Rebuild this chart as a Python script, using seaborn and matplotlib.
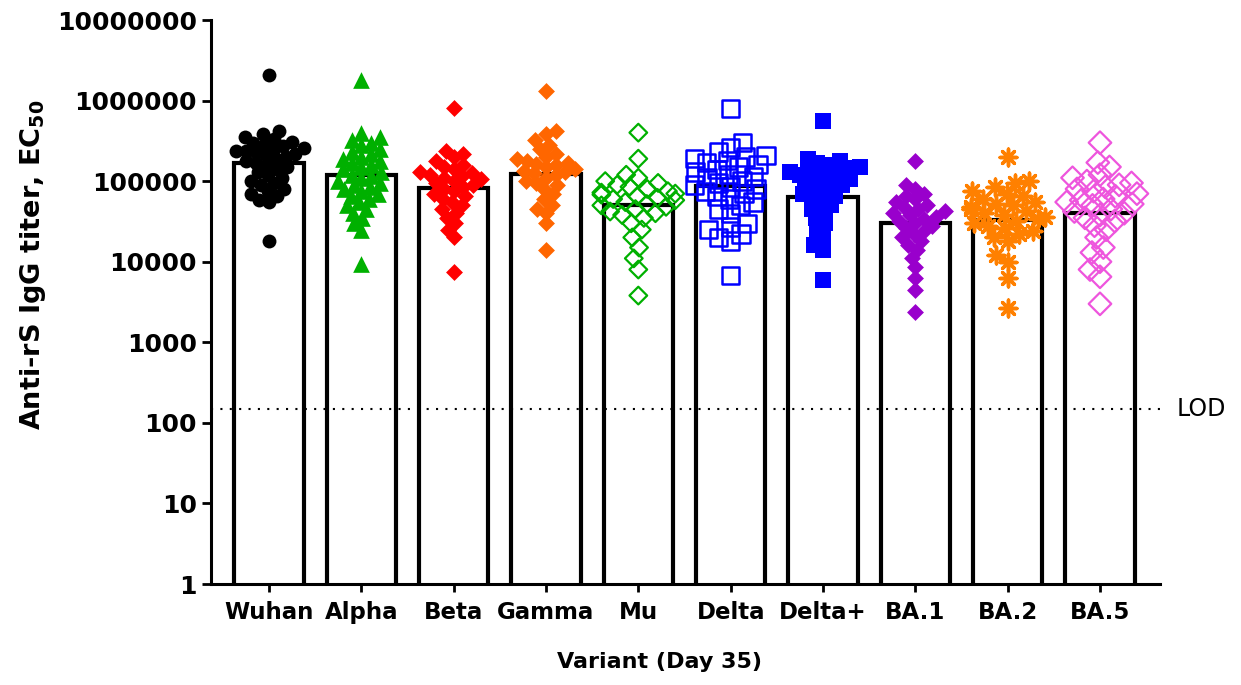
import matplotlib
matplotlib.use("Agg")
import matplotlib.pyplot as plt
import matplotlib.ticker as mticker
import matplotlib.transforms as mtransforms
import pandas as pd
import seaborn as sns

# --- data (anti-rS IgG EC50 titers, day 35) ---
variants = ["Wuhan", "Alpha", "Beta", "Gamma", "Mu", "Delta", "Delta+", "BA.1", "BA.2", "BA.5"]

wuhan = [2100000, 420000, 380000, 350000, 330000, 310000, 300000, 290000, 270000, 260000,
         250000, 240000, 240000, 230000, 220000, 210000, 200000, 190000, 180000, 170000,
         160000, 150000, 140000, 130000, 120000, 110000, 100000, 95000, 90000, 80000,
         75000, 70000, 65000, 58000, 55000, 18000]
alpha = [1800000, 400000, 350000, 320000, 300000, 280000, 250000, 230000, 220000, 200000,
         190000, 180000, 170000, 160000, 150000, 140000, 130000, 120000, 115000, 110000,
         100000, 95000, 90000, 85000, 80000, 75000, 70000, 65000, 60000, 55000,
         50000, 45000, 40000, 35000, 30000, 25000, 9500]
beta = [810000, 240000, 220000, 200000, 180000, 160000, 150000, 140000, 130000, 125000,
        120000, 115000, 110000, 105000, 100000, 95000, 90000, 85000, 80000, 75000,
        70000, 65000, 60000, 55000, 50000, 45000, 40000, 35000, 30000, 25000, 20000, 7500]
gamma = [1300000, 420000, 380000, 320000, 280000, 250000, 220000, 200000, 190000, 180000,
         170000, 165000, 160000, 150000, 140000, 135000, 130000, 125000, 120000, 110000,
         100000, 95000, 90000, 80000, 70000, 60000, 50000, 45000, 40000, 30000, 14000]
mu = [400000, 190000, 120000, 110000, 100000, 95000, 90000, 85000, 80000, 75000,
      72000, 70000, 68000, 65000, 62000, 60000, 58000, 55000, 52000, 50000,
      48000, 45000, 42000, 40000, 38000, 35000, 30000, 25000, 20000, 15000, 11000, 8000, 3800]
delta = [800000, 300000, 260000, 230000, 210000, 200000, 190000, 180000, 170000, 160000,
         150000, 140000, 130000, 120000, 115000, 110000, 100000, 95000, 90000, 85000,
         80000, 75000, 70000, 65000, 60000, 55000, 50000, 45000, 40000, 30000,
         27000, 25000, 22000, 20000, 18000, 6800]
delta_plus = [550000, 190000, 180000, 170000, 160000, 150000, 145000, 140000, 135000, 130000,
              125000, 120000, 115000, 110000, 105000, 100000, 95000, 90000, 85000, 80000,
              75000, 70000, 65000, 60000, 55000, 50000, 45000, 40000, 35000, 30000,
              25000, 20000, 16000, 14000, 6000]
ba1 = [180000, 90000, 80000, 70000, 65000, 60000, 55000, 50000, 48000, 45000,
       42000, 40000, 38000, 36000, 34000, 32000, 30000, 28000, 26000, 24000,
       22000, 20000, 18000, 16000, 14000, 11000, 8500, 6300, 4500, 2400]
ba2 = [200000, 100000, 95000, 85000, 75000, 70000, 65000, 60000, 55000, 52000,
       50000, 48000, 45000, 42000, 40000, 38000, 36000, 34000, 32000, 30000,
       28000, 26000, 24000, 22000, 20000, 18000, 12000, 10000, 6200, 2700]
ba5 = [300000, 170000, 150000, 120000, 110000, 100000, 95000, 90000, 85000, 80000,
       75000, 70000, 65000, 60000, 58000, 55000, 52000, 50000, 45000, 42000,
       40000, 38000, 35000, 32000, 28000, 25000, 20000, 15000, 13000, 10000, 8000, 6500, 3000]

# geometric mean bars
geo_means = [168000, 120000, 82000, 123000, 51000, 87000, 63000, 30000, 33000, 40000]
lod = 150
y_ticks = [1, 10, 100, 1000, 10000, 100000, 1000000, 10000000]

# --- marker styles per variant ---
colors = ["black", "#00B000", "#FF0000", "#FF6600", "#00B000",
          "#0000FF", "#0000FF", "#9900CC", "#FF8000", "#EE55DD"]
markers = ["o", "^", "D", "D", "D", "s", "s", "D", (8, 2, 0), "D"]
sizes = [10, 12, 8.6, 8.6, 9, 12.5, 12, 8.6, 12, 11.5]
hollow = [False, False, False, False, True, True, False, False, False, True]
edge_lw = [0, 0, 0, 0, 1.6, 1.8, 0, 0, 2.5, 1.6]

groups = [wuhan, alpha, beta, gamma, mu, delta, delta_plus, ba1, ba2, ba5]
df = pd.concat([pd.DataFrame({"variant": v, "titer": vals}) for v, vals in zip(variants, groups)],
               ignore_index=True)

sns.set_style("ticks")
plt.rcParams["font.family"] = ["DejaVu Sans"]
plt.rcParams["mathtext.fontset"] = "dejavusans"
for key in ["text.color", "axes.labelcolor", "xtick.color", "ytick.color", "axes.edgecolor"]:
    plt.rcParams[key] = "black"

fig, ax = plt.subplots(figsize=(12.41, 6.85), dpi=100)
fig.subplots_adjust(left=211 / 1241, right=1160 / 1241, top=1 - 20 / 685, bottom=1 - 584 / 685)

sns.barplot(x=variants, y=geo_means, order=variants, color="white", saturation=1,
            edgecolor="black", linewidth=3, width=0.75, ax=ax)
ax.set_yscale("log")

# swarms laid out with a small marker, then enlarged so points overlap like the original
swarm_colls = []
for v, col, mk, lw, hol, sz in zip(variants, colors, markers, edge_lw, hollow, sizes):
    sub = df[df["variant"] == v]
    kw = dict(facecolor="none", edgecolor=col, linewidth=lw) if hol else dict(edgecolor=col, linewidth=lw)
    n_before = len(ax.collections)
    sns.swarmplot(data=sub, x="variant", y="titer", order=variants, color=col,
                  marker=mk, size=7, ax=ax, warn_thresh=1, **kw)
    swarm_colls.append((ax.collections[n_before:], sz))

ax.axhline(lod, color="black", linestyle=(0, (1, 3.5)), linewidth=1.5, zorder=2)
trans = mtransforms.blended_transform_factory(ax.transAxes, ax.transData)
ax.text(1.018, lod, "LOD", transform=trans, va="center", ha="left", fontsize=17,
        color="black", clip_on=False)

ax.set_ylim(1, 1e7)
ax.set_xlim(-0.628, 9.65)
ax.yaxis.set_major_locator(mticker.FixedLocator(y_ticks))
ax.yaxis.set_major_formatter(mticker.FuncFormatter(lambda val, pos: f"{int(round(val))}"))
ax.yaxis.set_minor_locator(mticker.NullLocator())

fig.canvas.draw()
for colls, sz in swarm_colls:
    for coll in colls:
        if "draw" in coll.__dict__:
            del coll.draw
        coll.set_sizes([sz ** 2])

sns.despine(ax=ax)
for side in ["left", "bottom"]:
    ax.spines[side].set_linewidth(2.2)
    ax.spines[side].set_color("black")
ax.tick_params(axis="y", length=6.5, width=2, pad=3.5, labelsize=18, color="black", labelcolor="black")
ax.tick_params(axis="x", length=6, width=2, pad=6, labelsize=16.5, color="black", labelcolor="black")
for lab in ax.get_xticklabels() + ax.get_yticklabels():
    lab.set_fontweight("bold")

ax.set_xlabel("Variant (Day 35)", fontsize=16, fontweight="bold", color="black")
ax.set_ylabel(r"Anti-rS IgG titer, EC$_{\mathbf{50}}$", fontsize=19.5, fontweight="bold", color="black")
ax.xaxis.set_label_coords(0.473, -0.12)
ax.yaxis.set_label_coords(-0.172, 0.566)

fig.savefig("out.png", dpi=100)
